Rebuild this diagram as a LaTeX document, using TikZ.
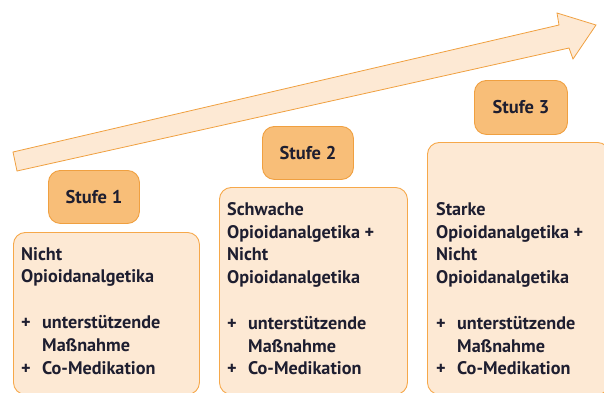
\documentclass[tikz,border=0pt]{standalone}
\usepackage{fontspec}
\setmainfont{PT Sans}
\definecolor{lblfill}{RGB}{248,190,120}
\definecolor{lbldraw}{RGB}{240,160,64}
\definecolor{boxfill}{RGB}{253,233,212}
\definecolor{boxdraw}{RGB}{246,168,74}
\definecolor{txt}{RGB}{30,30,48}
\tikzset{
  lbl/.style={draw=lbldraw, fill=lblfill, line width=0.9pt, rounded corners=12pt, anchor=north west, inner sep=0pt},
  content/.style={draw=boxdraw, fill=boxfill, line width=0.9pt, rounded corners=12pt, anchor=north west, inner sep=0pt},
  lbltext/.style={text=txt, font=\fontsize{18.5}{20}\selectfont\bfseries},
  bodytext/.style={text=txt, font=\fontsize{18.2}{22.8}\selectfont\bfseries, align=left, anchor=north west, inner sep=0pt},
  bigarrow/.style={draw=lbldraw, fill=boxfill, line width=0.8pt, line join=miter}
}
\newcommand{\plusline}[1]{\makebox[21pt][l]{+}#1}
\newcommand{\indline}[1]{\hspace*{21pt}#1}
\begin{document}
\begin{tikzpicture}[x=1pt,y=-1pt]
\useasboundingbox (0,0) rectangle (604,392);
% arrow
\draw[bigarrow] (13,152) -- (559,25) -- (557,13) -- (596,25) -- (573,59) -- (569,48) -- (17,171) -- cycle;
% label boxes
\node[lbl, minimum width=91pt, minimum height=53pt] (l1) at (48,170) {};
\node[lbltext] (s1) at (l1.center) {Stufe 1};
\node[lbl, minimum width=91pt, minimum height=53pt] (l2) at (262,126) {};
\node[lbltext] (s2) at (l2.center) {Stufe 2};
\node[lbl, minimum width=93pt, minimum height=54pt] (l3) at (474,80) {};
\node[lbltext] (s3) at (l3.center) {Stufe 3};
% content boxes
\node[content, minimum width=186pt, minimum height=162pt] (b1) at (13,232) {};
\node[content, minimum width=188pt, minimum height=207pt] (b2) at (219,187) {};
\node[content, minimum width=182pt, minimum height=252pt] (b3) at (427,142) {};
% texts
\node[bodytext] (t1) at (21,247) {Nicht\\Opioidanalgetika\\[22.8pt]\plusline{unterstützende}\\\indline{Maßnahme}\\\plusline{Co-Medikation}};
\node[bodytext] (t2) at (227,202) {Schwache\\Opioidanalgetika +\\Nicht\\Opioidanalgetika\\[22.8pt]\plusline{unterstützende}\\\indline{Maßnahme}\\\plusline{Co-Medikation}};
\node[bodytext] (t3) at (436,202) {Starke\\Opioidanalgetika +\\Nicht\\Opioidanalgetika\\[22.8pt]\plusline{unterstützende}\\\indline{Maßnahme}\\\plusline{Co-Medikation}};
\end{tikzpicture}
\end{document}
